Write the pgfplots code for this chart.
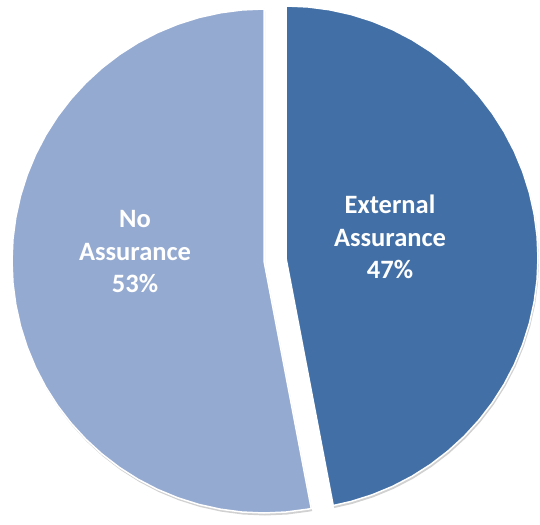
\documentclass[border=0pt]{standalone}
\usepackage{pgfplots}
\pgfplotsset{compat=1.18}
\usepgfplotslibrary{polar}
\usepackage{fontspec}
\setmainfont{Carlito}
\definecolor{lightblue}{RGB}{149,170,209}
\definecolor{darkblue}{RGB}{66,111,165}
\pgfplotsset{pieax/.style={
  scale only axis, width=504pt, height=504pt,
  ymin=0, ymax=1, hide axis, clip=false, anchor=center}}
\begin{document}
\begin{tikzpicture}
\path[use as bounding box, fill=white] (0,0) rectangle (540pt,524pt);
% No Assurance 53% (from 90 deg counter-clockwise to 280.8 deg)
\begin{polaraxis}[pieax, at={(264pt,263pt)}]
\addplot[draw=none, fill=black, opacity=0.18, shift={(1pt,-2.5pt)}] coordinates {
(0,0) (90,1) (95,1) (100,1) (105,1) (110,1) (115,1) (120,1) (125,1) (130,1) (135,1) (140,1) (145,1) (150,1) (155,1) (160,1) (165,1) (170,1) (175,1) (180,1) (185,1) (190,1) (195,1) (200,1) (205,1) (210,1) (215,1) (220,1) (225,1) (230,1) (235,1) (240,1) (245,1) (250,1) (255,1) (260,1) (265,1) (270,1) (275,1) (280,1) (280.8,1)} -- cycle;
\addplot[draw=white, line width=1.5pt, fill=lightblue, line join=round] coordinates {
(0,0) (90,1) (95,1) (100,1) (105,1) (110,1) (115,1) (120,1) (125,1) (130,1) (135,1) (140,1) (145,1) (150,1) (155,1) (160,1) (165,1) (170,1) (175,1) (180,1) (185,1) (190,1) (195,1) (200,1) (205,1) (210,1) (215,1) (220,1) (225,1) (230,1) (235,1) (240,1) (245,1) (250,1) (255,1) (260,1) (265,1) (270,1) (275,1) (280,1) (280.8,1)} -- cycle;
\end{polaraxis}
% External Assurance 47% (exploded)
\begin{polaraxis}[pieax, at={(286pt,266pt)}]
\addplot[draw=none, fill=black, opacity=0.18, shift={(1pt,-2.5pt)}] coordinates {
(0,0) (-79.2,1) (-75,1) (-70,1) (-65,1) (-60,1) (-55,1) (-50,1) (-45,1) (-40,1) (-35,1) (-30,1) (-25,1) (-20,1) (-15,1) (-10,1) (-5,1) (0,1) (5,1) (10,1) (15,1) (20,1) (25,1) (30,1) (35,1) (40,1) (45,1) (50,1) (55,1) (60,1) (65,1) (70,1) (75,1) (80,1) (85,1) (90,1)} -- cycle;
\addplot[draw=white, line width=1.5pt, fill=darkblue, line join=round] coordinates {
(0,0) (-79.2,1) (-75,1) (-70,1) (-65,1) (-60,1) (-55,1) (-50,1) (-45,1) (-40,1) (-35,1) (-30,1) (-25,1) (-20,1) (-15,1) (-10,1) (-5,1) (0,1) (5,1) (10,1) (15,1) (20,1) (25,1) (30,1) (35,1) (40,1) (45,1) (50,1) (55,1) (60,1) (65,1) (70,1) (75,1) (80,1) (85,1) (90,1)} -- cycle;
\end{polaraxis}
\node[text=white, font=\fontsize{26.5}{32.5}\selectfont\bfseries, align=center] at (135pt,272pt) {No\\Assurance\\53\%};
\node[text=white, font=\fontsize{26.5}{32.5}\selectfont\bfseries, align=center] at (390pt,287pt) {External\\Assurance\\47\%};
\end{tikzpicture}
\end{document}
